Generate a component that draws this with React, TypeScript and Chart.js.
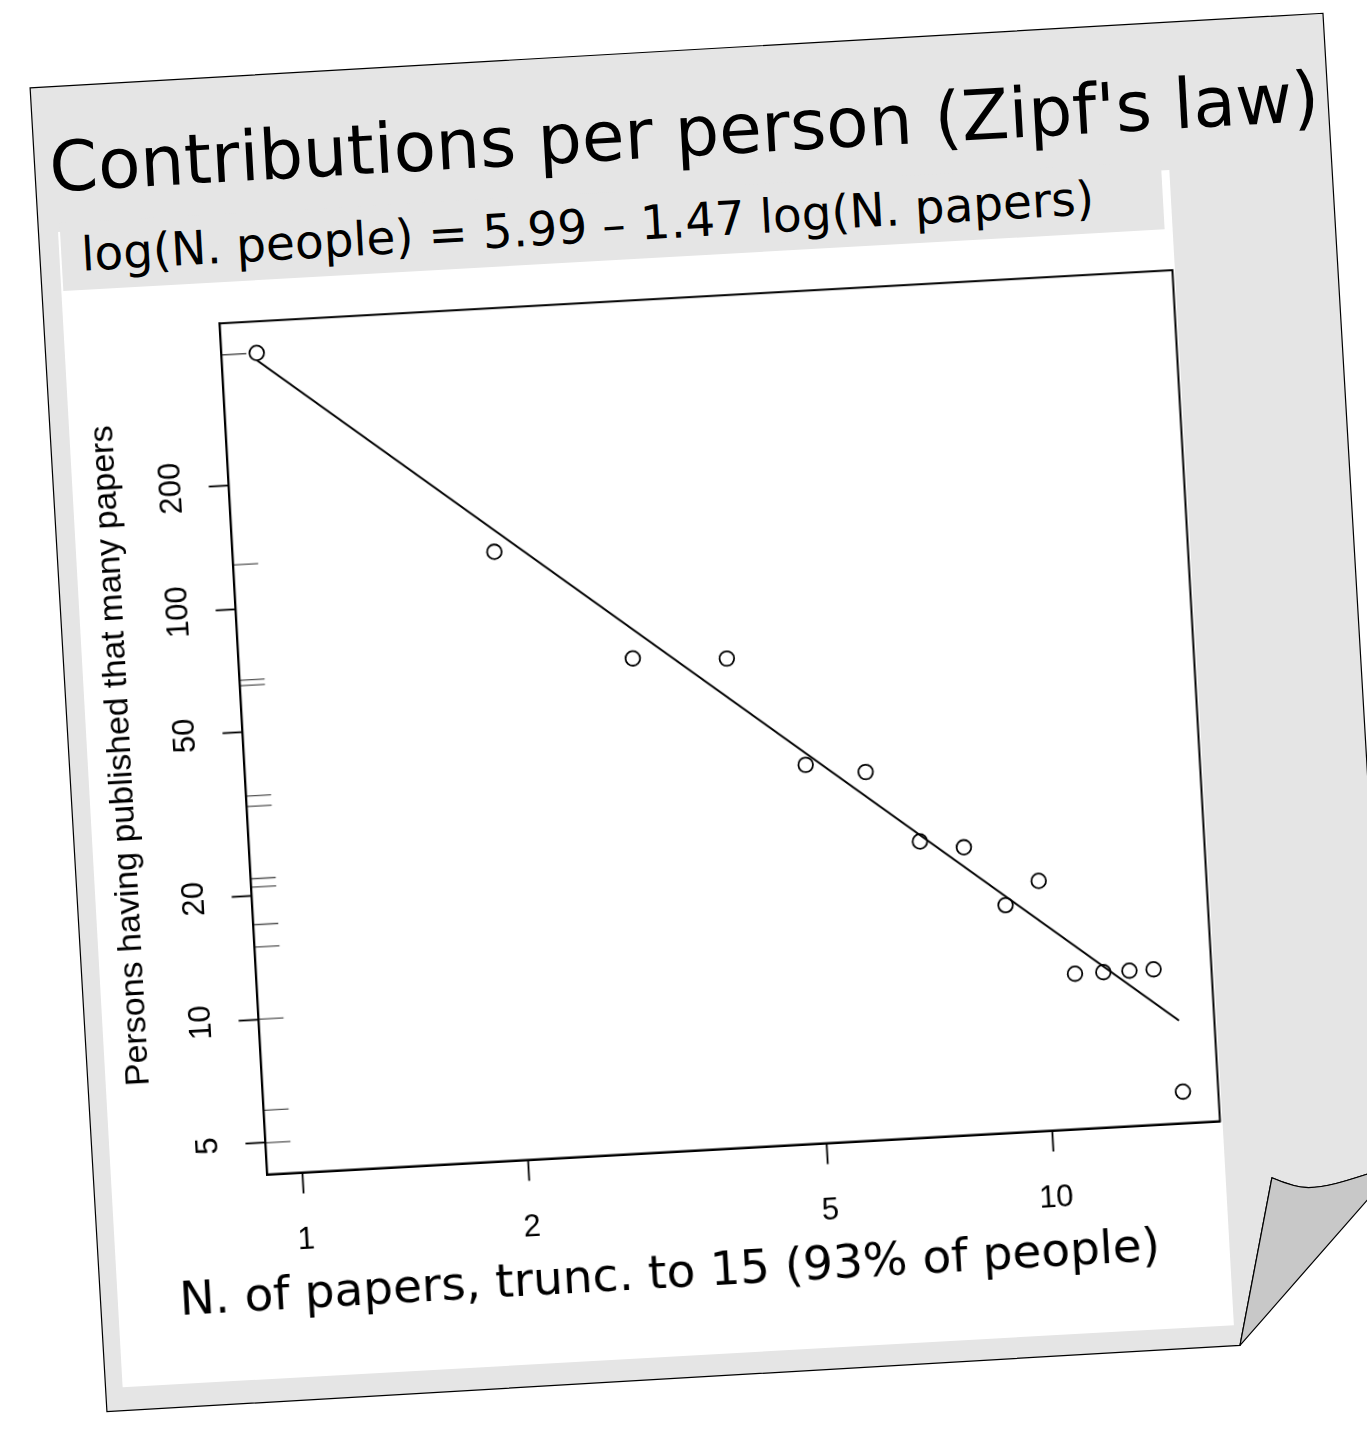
import React, { useEffect, useRef } from "react";
import { Chart, registerables } from "chart.js";

Chart.register(...registerables);

// ---- data ----
const papers = [1, 2, 3, 4, 5, 6, 7, 8, 9, 10, 11, 12, 13, 14, 15];
const people = [416, 127, 67, 65, 35, 33, 22, 21, 15, 17, 10, 10, 10, 10, 5];
const rugPeople = [416, 128, 67, 65, 35, 33, 22, 21, 17, 15, 10, 6, 5];
const fitPapers = [1, 15];
const fitPeople = [399, 7.45];
const xTicks = [1, 2, 5, 10];
const yTicks = [5, 10, 20, 50, 100, 200];

const titleText = "Contributions per person (Zipf's law)";
const subtitleText = "log(N. people) = 5.99 \u2013 1.47 log(N. papers)";
const xTitleText = "N. of papers, trunc. to 15 (93% of people)";
const yTitleText = "Persons having published that many papers";

// R-style 4% range extension on log axes
function logRange(vals: number[]) {
  const lo = Math.log10(Math.min(...vals));
  const hi = Math.log10(Math.max(...vals));
  const pad = (hi - lo) * 0.04;
  return [Math.pow(10, lo - pad), Math.pow(10, hi + pad)];
}
const [xMin, xMax] = logRange(papers);
const [yMin, yMax] = logRange(people);

const CANVAS_W = 1113;
const CANVAS_H = 1000;

const framePlugin = {
  id: "frame",
  afterDatasetsDraw(chart: any) {
    const { ctx, chartArea } = chart;
    ctx.save();
    ctx.strokeStyle = "#000";
    ctx.lineWidth = 2;
    ctx.strokeRect(chartArea.left, chartArea.top, chartArea.right - chartArea.left, chartArea.bottom - chartArea.top);
    ctx.restore();
  },
};

const rugPlugin = {
  id: "rug",
  beforeDatasetsDraw(chart: any) {
    const { ctx, chartArea, scales } = chart;
    ctx.save();
    ctx.strokeStyle = "#555";
    ctx.lineWidth = 1.3;
    ctx.beginPath();
    for (const v of rugPeople) {
      const py = scales.y.getPixelForValue(v);
      ctx.moveTo(chartArea.left, py);
      ctx.lineTo(chartArea.left + 25, py);
    }
    ctx.stroke();
    ctx.restore();
  },
};

const yLabelPlugin = {
  id: "yLabels",
  afterDraw(chart: any) {
    const { ctx, chartArea, scales } = chart;
    ctx.save();
    ctx.fillStyle = "#000";
    ctx.font = '31px "Liberation Sans", Arial, sans-serif';
    ctx.textAlign = "center";
    ctx.textBaseline = "middle";
    for (const v of yTicks) {
      const py = scales.y.getPixelForValue(v);
      ctx.save();
      ctx.translate(chartArea.left - 57, py);
      ctx.rotate(-Math.PI / 2);
      ctx.fillText(String(v), 0, 0);
      ctx.restore();
    }
    ctx.restore();
  },
};

function ZipfChart() {
  const ref = useRef<HTMLCanvasElement | null>(null);
  useEffect(() => {
    if (!ref.current) return;
    const chart = new Chart(ref.current, {
      type: "scatter",
      data: {
        datasets: [
          {
            label: "fit",
            data: fitPapers.map((x, i) => ({ x, y: fitPeople[i] })),
            showLine: true,
            borderColor: "#000",
            borderWidth: 2,
            pointRadius: 0,
            pointHoverRadius: 0,
          },
          {
            label: "people",
            data: papers.map((x, i) => ({ x, y: people[i] })),
            pointStyle: "circle",
            pointRadius: 7.3,
            pointBorderWidth: 1.8,
            pointBorderColor: "#000",
            pointBackgroundColor: "rgba(0,0,0,0)",
            showLine: false,
          },
        ],
      },
      options: {
        animation: false,
        responsive: false,
        events: [],
        layout: { autoPadding: false, padding: { left: 0, right: 2.5, top: 41.2, bottom: 0 } },
        plugins: { legend: { display: false }, tooltip: { enabled: false }, title: { display: false } },
        scales: {
          x: {
            type: "logarithmic",
            min: xMin,
            max: xMax,
            afterBuildTicks: (s: any) => {
              s.ticks = xTicks.map((v) => ({ value: v }));
            },
            afterFit: (s: any) => {
              s.height = CANVAS_H - 893.5;
            },
            grid: {
              display: true,
              drawOnChartArea: false,
              drawTicks: true,
              tickLength: 21,
              tickWidth: 1.8,
              tickColor: "#000",
              color: "#000",
            },
            border: { display: true, color: "#000", width: 2 },
            ticks: {
              color: "#000",
              font: { family: '"Liberation Sans", Arial, sans-serif', size: 31 },
              padding: 28,
              maxRotation: 0,
              minRotation: 0,
              autoSkip: false,
              callback: (v: any) => String(v),
            },
          },
          y: {
            type: "logarithmic",
            min: yMin,
            max: yMax,
            afterBuildTicks: (s: any) => {
              s.ticks = yTicks.map((v) => ({ value: v }));
            },
            afterFit: (s: any) => {
              s.width = 156.3;
            },
            grid: {
              display: true,
              drawOnChartArea: false,
              drawTicks: true,
              tickLength: 20,
              tickWidth: 1.8,
              tickColor: "#000",
              color: "#000",
            },
            border: { display: true, color: "#000", width: 2 },
            ticks: { display: false },
            title: {
              display: true,
              text: yTitleText,
              color: "#000",
              font: { family: '"Liberation Sans", Arial, sans-serif', size: 34 },
              padding: { top: 13.3, bottom: 0 },
            },
          },
        },
      },
      plugins: [rugPlugin, framePlugin, yLabelPlugin],
    } as any);
    return () => chart.destroy();
  }, []);
  return (
    <canvas
      ref={ref}
      width={CANVAS_W}
      height={CANVAS_H}
      style={{ position: "absolute", left: 45, top: 294, width: CANVAS_W, height: CANVAS_H }}
    />
  );
}

export default function App() {
  const dejavu = '"DejaVu Sans", sans-serif';
  return (
    <div
      style={{
        position: "fixed",
        left: 0,
        top: 0,
        width: 1367,
        height: 1440,
        overflow: "hidden",
        background: "#fff",
      }}
    >
      {/* paper sheet with curled corner */}
      <div
        style={{
          position: "absolute",
          left: 0,
          top: 0,
          width: 1400,
          height: 1500,
          transformOrigin: "0 0",
          transform: "rotate(-3.3deg)",
        }}
      >
        <svg width={1400} height={1500} style={{ position: "absolute", left: 0, top: 0, overflow: "visible" }}>
          <path
            d="M25,89.4 L1320,89.4 L1321,1245 C1290,1252 1262,1262 1238,1261 C1225,1260 1212,1254 1202,1249 L1160.5,1414.5 L25.5,1415.5 Z"
            fill="#e5e5e5"
            stroke="#000"
            strokeWidth={1.2}
          />
          <path
            d="M1202,1249 C1212,1254 1225,1260 1238,1261 C1262,1262 1290,1252 1321,1245 L1332,1240 L1160.5,1414.5 Z"
            fill="#c8c8c8"
            stroke="#000"
            strokeWidth={1.2}
            strokeLinejoin="round"
          />
        </svg>
      </div>
      {/* image content */}
      <div
        style={{
          position: "absolute",
          left: 0,
          top: 0,
          width: 1400,
          height: 1500,
          transformOrigin: "0 0",
          transform: "rotate(-3.2deg)",
        }}
      >
        <div style={{ position: "absolute", left: 45, top: 235, width: 1113, height: 1157, background: "#fff" }} />
        <div style={{ position: "absolute", left: 47, top: 226, width: 1103, height: 68, background: "#e5e5e5" }} />
        <div
          style={{
            position: "absolute",
            left: 40,
            top: 135.8,
            fontFamily: dejavu,
            fontSize: 69.4,
            lineHeight: "69.4px",
            whiteSpace: "nowrap",
            color: "#000",
          }}
        >
          {titleText}
        </div>
        <div
          style={{
            position: "absolute",
            left: 67,
            top: 234.6,
            fontFamily: dejavu,
            fontSize: 47,
            lineHeight: "47px",
            whiteSpace: "nowrap",
            color: "#000",
          }}
        >
          {subtitleText}
        </div>
        <ZipfChart />
        <div
          style={{
            position: "absolute",
            left: 106.7,
            top: 1283.3,
            fontFamily: dejavu,
            fontSize: 47,
            lineHeight: "47px",
            whiteSpace: "nowrap",
            color: "#000",
          }}
        >
          {xTitleText}
        </div>
      </div>
    </div>
  );
}
